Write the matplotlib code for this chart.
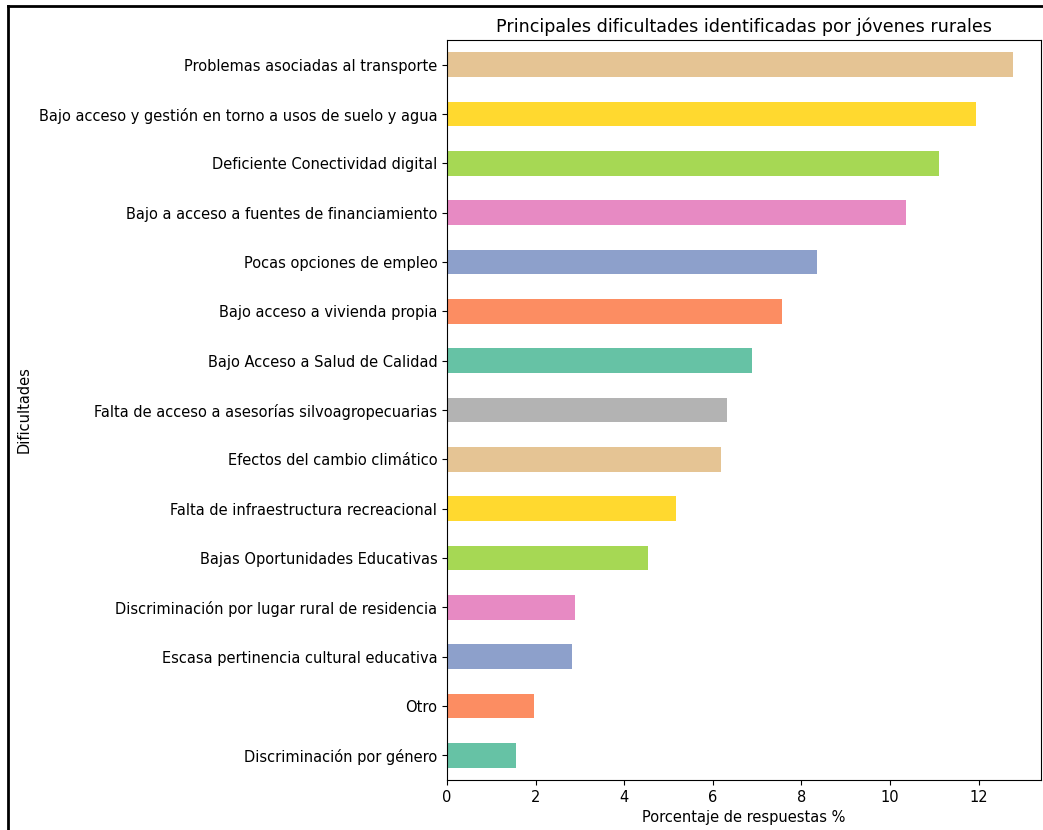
import matplotlib.pyplot as plt
from matplotlib.lines import Line2D

# Datos (de abajo hacia arriba)
dificultades = [
    "Discriminación por género",
    "Otro",
    "Escasa pertinencia cultural educativa",
    "Discriminación por lugar rural de residencia",
    "Bajas Oportunidades Educativas",
    "Falta de infraestructura recreacional",
    "Efectos del cambio climático",
    "Falta de acceso a asesorías silvoagropecuarias",
    "Bajo Acceso a Salud de Calidad",
    "Bajo acceso a vivienda propia",
    "Pocas opciones de empleo",
    "Bajo a acceso a fuentes de financiamiento",
    "Deficiente Conectividad digital",
    "Bajo acceso y gestión en torno a usos de suelo y agua",
    "Problemas asociadas al transporte",
]
porcentajes = [1.55, 1.96, 2.82, 2.88, 4.53, 5.16, 6.19, 6.31, 6.89, 7.57,
               8.36, 10.36, 11.10, 11.94, 12.77]

plt.rcParams["font.size"] = 10.5

set2 = plt.get_cmap("Set2").colors
colores = [set2[i % len(set2)] for i in range(len(dificultades))]

fig = plt.figure(figsize=(10.43, 8.3), dpi=100)
ax = fig.add_axes([0.4286, 0.0602, 0.5695, 0.8916])

ax.barh(range(len(dificultades)), porcentajes, height=0.5, color=colores)
ax.set_yticks(range(len(dificultades)))
ax.set_yticklabels(dificultades)
ax.set_ylim(-0.5, len(dificultades) - 0.5)
ax.set_xlim(0, max(porcentajes) * 1.05)

ax.set_title("Principales dificultades identificadas por jóvenes rurales", fontsize=12.6)
ax.set_xlabel("Porcentaje de respuestas %")
ax.set_ylabel("Dificultades")
ax.yaxis.set_label_coords(-0.70, 0.5)

# marco negro de la captura
fig.add_artist(Line2D([8 / 1043, 8 / 1043], [0, 1 - 6 / 830],
                      transform=fig.transFigure, color="black", lw=2))
fig.add_artist(Line2D([8 / 1043, 1], [1 - 6 / 830, 1 - 6 / 830],
                      transform=fig.transFigure, color="black", lw=2))

fig.savefig("out.png", dpi=100)
